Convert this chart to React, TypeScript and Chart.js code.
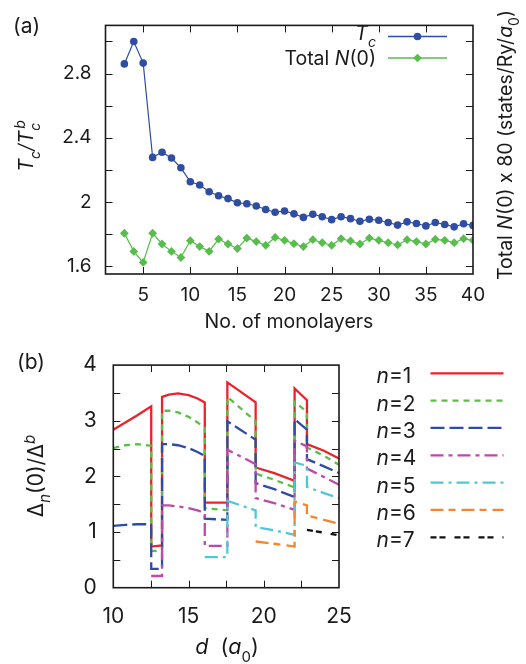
import React, { useEffect, useRef } from 'react';
import { Chart, registerables } from 'chart.js';

Chart.register(...registerables);

// ---------- Panel (a) data ----------
const monolayers = [3, 4, 5, 6, 7, 8, 9, 10, 11, 12, 13, 14, 15, 16, 17, 18, 19, 20, 21, 22, 23, 24, 25, 26, 27, 28, 29, 30, 31, 32, 33, 34, 35, 36, 37, 38, 39, 40];
const tcRatio = [2.86, 3.0, 2.865, 2.277, 2.309, 2.273, 2.212, 2.125, 2.105, 2.063, 2.038, 2.02, 1.994, 1.988, 1.974, 1.952, 1.935, 1.943, 1.925, 1.903, 1.923, 1.907, 1.889, 1.907, 1.895, 1.879, 1.891, 1.885, 1.871, 1.855, 1.875, 1.865, 1.85, 1.871, 1.859, 1.844, 1.863, 1.853];
const totalN0 = [1.804, 1.691, 1.622, 1.804, 1.737, 1.691, 1.653, 1.758, 1.721, 1.691, 1.768, 1.737, 1.709, 1.774, 1.752, 1.729, 1.778, 1.76, 1.739, 1.721, 1.764, 1.745, 1.729, 1.77, 1.756, 1.737, 1.774, 1.76, 1.745, 1.731, 1.764, 1.752, 1.737, 1.766, 1.76, 1.745, 1.77, 1.76];

// ---------- Panel (b) data ----------
const dGrid = [10, 10.8, 11.6, 12.52, 12.52, 13.24, 13.24, 13.7, 14.3, 15.0, 15.6, 16.08, 16.08, 17.58, 17.58, 19.46, 19.46, 20.7, 22.05, 22.05, 22.87, 22.87, 24, 25];
const gapN1 = [2.84, 2.97, 3.10, 3.26, 0.74, 0.76, 3.43, 3.47, 3.49, 3.46, 3.40, 3.33, 1.53, 1.53, 3.69, 3.33, 2.16, 2.06, 1.92, 3.58, 3.37, 2.58, 2.46, 2.32];
const gapN2 = [2.51, 2.56, 2.58, 2.55, 0.66, 0.66, 3.18, 3.18, 3.15, 3.07, 2.97, 2.87, 1.43, 1.39, 3.43, 2.99, 2.05, 1.94, 1.80, 3.34, 3.16, 2.52, 2.37, 2.21];
const gapN3 = [1.11, 1.13, 1.14, 1.14, 0.34, 0.34, 2.58, 2.58, 2.56, 2.51, 2.44, 2.37, 1.24, 1.22, 2.99, 2.66, 1.88, 1.77, 1.63, 3.03, 2.84, 2.31, 2.18, 2.06];
const gapN4 = [null, null, null, null, 0.21, 0.21, 1.48, 1.48, 1.46, 1.43, 1.39, 1.34, 0.75, 0.75, 2.48, 2.22, 1.61, 1.52, 1.40, 2.64, 2.54, 2.14, 1.99, 1.85];
const gapN5 = [null, null, null, null, null, null, null, null, null, null, null, null, 0.55, 0.55, 1.56, 1.39, 1.09, 1.03, 0.95, 2.25, 2.19, 1.81, 1.70, 1.61];
const gapN6 = [null, null, null, null, null, null, null, null, null, null, null, null, null, null, null, null, 0.83, 0.79, 0.74, 1.55, 1.48, 1.30, 1.22, 1.15];
const gapN7 = [null, null, null, null, null, null, null, null, null, null, null, null, null, null, null, null, null, null, null, null, null, 1.04, 0.99, 0.94];

const seriesLabels = ['n=1', 'n=2', 'n=3', 'n=4', 'n=5', 'n=6', 'n=7'];
const seriesValues = [gapN1, gapN2, gapN3, gapN4, gapN5, gapN6, gapN7];
const seriesColors = ['#e8242a', '#5cbf45', '#2f4ca5', '#bb4aa8', '#4ec9d4', '#f7862a', '#111111'];
const seriesDash: number[][] = [[], [6, 5], [14, 5], [13, 5, 4, 5], [13, 5, 3, 5], [13, 5, 7, 6], [6, 3, 6, 9]];

const FAM = "Inter, 'Liberation Sans', Arial, sans-serif";
const INK = '#1a1a1a';

type Seg = { t: string; i?: boolean; sub?: boolean; sup?: boolean; stack?: boolean };

function drawRich(ctx: CanvasRenderingContext2D, segs: Seg[], x: number, y: number, size: number, align: 'left' | 'center' | 'right', rot = 0) {
  ctx.save();
  ctx.translate(x, y);
  ctx.rotate(rot);
  ctx.textBaseline = 'alphabetic';
  ctx.textAlign = 'left';
  ctx.fillStyle = INK;
  const font = (s: Seg) => `${s.i ? 'italic ' : ''}${s.sub || s.sup ? Math.round(size * 0.72) : size}px ${FAM}`;
  const widths = segs.map((s) => { ctx.font = font(s); return ctx.measureText(s.t).width; });
  const xs: number[] = [];
  let cx = 0;
  let lastStart = 0;
  segs.forEach((s, k) => {
    if (s.stack) {
      xs.push(lastStart + 2);
      cx = Math.max(cx, lastStart + 2 + widths[k]);
    } else {
      xs.push(cx);
      lastStart = cx;
      cx += widths[k];
    }
  });
  const off = align === 'left' ? 0 : align === 'center' ? -cx / 2 : -cx;
  segs.forEach((s, k) => {
    ctx.font = font(s);
    const dy = s.sub ? size * 0.35 : s.sup ? -size * 0.4 : 0;
    ctx.fillText(s.t, xs[k] + off, dy);
  });
  ctx.restore();
}

function frameAndTicks(chart: any, tickLen: number) {
  const ctx: CanvasRenderingContext2D = chart.ctx;
  const { left, right, top, bottom } = chart.chartArea;
  const xs = chart.scales.x;
  const ys = chart.scales.y;
  ctx.save();
  ctx.strokeStyle = INK;
  ctx.lineWidth = 1;
  ctx.beginPath();
  xs.ticks.forEach((t: any) => {
    const p = Math.round(xs.getPixelForValue(t.value)) + 0.5;
    if (p < left + 1 || p > right - 1) return;
    ctx.moveTo(p, bottom); ctx.lineTo(p, bottom - tickLen);
    ctx.moveTo(p, top); ctx.lineTo(p, top + tickLen);
  });
  ys.ticks.forEach((t: any) => {
    const p = Math.round(ys.getPixelForValue(t.value)) + 0.5;
    if (p < top + 1 || p > bottom - 1) return;
    ctx.moveTo(left, p); ctx.lineTo(left + tickLen, p);
    ctx.moveTo(right, p); ctx.lineTo(right - tickLen, p);
  });
  ctx.stroke();
  ctx.lineWidth = 1.6;
  ctx.strokeRect(left, top, right - left, bottom - top);
  ctx.restore();
}

const decorA = {
  id: 'decorA',
  afterDraw(chart: any) {
    const ctx: CanvasRenderingContext2D = chart.ctx;
    frameAndTicks(chart, 7);
    drawRich(ctx, [{ t: '(a)' }], 13, 33, 21, 'left');
    drawRich(ctx, [{ t: 'T', i: true }, { t: 'c', i: true, sub: true }, { t: '/', i: true }, { t: 'T', i: true }, { t: 'c', i: true, sub: true }, { t: 'b', i: true, sup: true, stack: true }], 33, 146, 20, 'center', -Math.PI / 2);
    drawRich(ctx, [{ t: 'Total ' }, { t: 'N', i: true }, { t: '(0) x 80 (states/Ry/' }, { t: 'a', i: true }, { t: '0', sub: true }, { t: ')' }], 512, 145, 19.5, 'center', -Math.PI / 2);
    drawRich(ctx, [{ t: 'No. of monolayers' }], 289, 328, 19.5, 'center');
    // legend
    drawRich(ctx, [{ t: 'T', i: true }, { t: 'c', i: true, sub: true }], 376, 40, 20, 'right');
    drawRich(ctx, [{ t: 'Total ' }, { t: 'N', i: true }, { t: '(0)' }], 376, 65, 19.5, 'right');
    ctx.save();
    ctx.lineWidth = 1.3;
    ctx.strokeStyle = '#2f4da3';
    ctx.beginPath(); ctx.moveTo(388, 36.5); ctx.lineTo(447, 36.5); ctx.stroke();
    ctx.fillStyle = '#2f4da3';
    ctx.beginPath(); ctx.arc(417.5, 36.5, 3.8, 0, Math.PI * 2); ctx.fill();
    ctx.strokeStyle = '#58bd4c';
    ctx.beginPath(); ctx.moveTo(388, 58); ctx.lineTo(447, 58); ctx.stroke();
    ctx.fillStyle = '#58bd4c';
    ctx.beginPath(); ctx.moveTo(417.5, 53.7); ctx.lineTo(421.8, 58); ctx.lineTo(417.5, 62.3); ctx.lineTo(413.2, 58); ctx.closePath(); ctx.fill();
    ctx.restore();
  },
};

const decorB = {
  id: 'decorB',
  afterDraw(chart: any) {
    const ctx: CanvasRenderingContext2D = chart.ctx;
    frameAndTicks(chart, 7);
    drawRich(ctx, [{ t: '(b)' }], 17, 33, 21, 'left');
    drawRich(ctx, [{ t: 'Δ' }, { t: 'n', i: true, sub: true }, { t: '(0)/Δ' }, { t: 'b', i: true, sup: true }], 43, 140, 21, 'center', -Math.PI / 2);
    drawRich(ctx, [{ t: 'd', i: true }, { t: '  (' }, { t: 'a', i: true }, { t: '0', sub: true }, { t: ')' }], 227, 318, 21.5, 'center');
    ctx.save();
    seriesLabels.forEach((lab, k) => {
      const yRow = 37.3 + k * 27.33;
      drawRich(ctx, [{ t: 'n', i: true }, { t: lab.slice(1) }], 376.5, yRow + 10, 21, 'left');
      ctx.strokeStyle = seriesColors[k];
      ctx.lineWidth = 2.3;
      ctx.setLineDash(seriesDash[k]);
      ctx.beginPath(); ctx.moveTo(430.5, yRow); ctx.lineTo(503.5, yRow); ctx.stroke();
    });
    ctx.restore();
  },
};

function fmt(v: number) {
  return String(Number(v.toFixed(2)));
}

export default function App() {
  const refA = useRef<HTMLCanvasElement | null>(null);
  const refB = useRef<HTMLCanvasElement | null>(null);

  useEffect(() => {
    const chartA = new Chart(refA.current as HTMLCanvasElement, {
      type: 'line',
      data: {
        datasets: [
          {
            label: 'Tc',
            data: monolayers.map((m, k) => ({ x: m, y: tcRatio[k] })),
            borderColor: '#2f4da3',
            backgroundColor: '#2f4da3',
            borderWidth: 1.2,
            pointStyle: 'circle',
            pointRadius: 3.8,
            pointBorderWidth: 0,
          },
          {
            label: 'Total N(0)',
            data: monolayers.map((m, k) => ({ x: m, y: totalN0[k] })),
            borderColor: '#58bd4c',
            backgroundColor: '#58bd4c',
            borderWidth: 1.2,
            pointStyle: 'rectRot',
            pointRadius: 4.4,
            pointBorderWidth: 0,
          },
        ],
      },
      options: {
        responsive: false,
        animation: false,
        devicePixelRatio: 1,
        events: [],
        layout: { padding: { left: 0, top: 18, right: 53, bottom: 0 } },
        plugins: { legend: { display: false }, tooltip: { enabled: false } },
        scales: {
          x: {
            type: 'linear',
            min: 1,
            max: 40,
            grid: { display: false, drawTicks: false },
            border: { display: false },
            ticks: { stepSize: 5, includeBounds: false, padding: 10, color: INK, font: { family: FAM, size: 19 }, maxRotation: 0, callback: (v: any) => fmt(Number(v)) },
            afterFit: (s: any) => { s.height = 62; },
          },
          y: {
            type: 'linear',
            min: 1.55,
            max: 3.1,
            grid: { display: false, drawTicks: false },
            border: { display: false },
            ticks: {
              stepSize: 0.2,
              includeBounds: false,
              padding: 14,
              color: INK,
              font: { family: FAM, size: 19 },
              callback: (v: any) => {
                const n = Number(v) / 0.4;
                return Math.abs(n - Math.round(n)) < 1e-6 ? fmt(Number(v)) : '';
              },
            },
            afterFit: (s: any) => { s.width = 105.5; },
          },
        },
      },
      plugins: [decorA],
    } as any);

    const chartB = new Chart(refB.current as HTMLCanvasElement, {
      type: 'line',
      data: {
        datasets: seriesValues.map((vals, k) => ({
          label: seriesLabels[k],
          data: dGrid.map((d, j) => ({ x: d, y: vals[j] })),
          borderColor: seriesColors[k],
          backgroundColor: seriesColors[k],
          borderWidth: 2.3,
          borderDash: seriesDash[k],
          pointRadius: 0,
          spanGaps: false,
          tension: 0,
          order: 10 - k,
        })),
      },
      options: {
        responsive: false,
        animation: false,
        devicePixelRatio: 1,
        events: [],
        layout: { padding: { left: 0, top: 25, right: 187, bottom: 0 } },
        plugins: { legend: { display: false }, tooltip: { enabled: false } },
        scales: {
          x: {
            type: 'linear',
            min: 10,
            max: 25,
            grid: { display: false, drawTicks: false },
            border: { display: false },
            ticks: {
              stepSize: 2.5,
              padding: 16,
              color: INK,
              font: { family: FAM, size: 21 },
              maxRotation: 0,
              autoSkip: false,
              callback: (v: any) => (Math.abs(Number(v) % 5) < 1e-6 ? fmt(Number(v)) : ''),
            },
            afterFit: (s: any) => { s.height = 76.3; },
          },
          y: {
            type: 'linear',
            min: 0,
            max: 4,
            grid: { display: false, drawTicks: false },
            border: { display: false },
            ticks: {
              stepSize: 0.5,
              padding: 16.5,
              color: INK,
              font: { family: FAM, size: 21 },
              autoSkip: false,
              callback: (v: any) => (Math.abs(Number(v) % 1) < 1e-6 ? fmt(Number(v)) : ''),
            },
            afterFit: (s: any) => { s.width = 113.3; },
          },
        },
      },
      plugins: [decorB],
    } as any);

    return () => {
      chartA.destroy();
      chartB.destroy();
    };
  }, []);

  return (
    <div style={{ position: 'fixed', left: 0, top: 0, width: 526, height: 664, background: '#ffffff' }}>
      <canvas ref={refA} width={526} height={336} style={{ position: 'absolute', left: 0, top: 0, width: 526, height: 336 }} />
      <canvas ref={refB} width={526} height={328} style={{ position: 'absolute', left: 0, top: 336, width: 526, height: 328 }} />
    </div>
  );
}
